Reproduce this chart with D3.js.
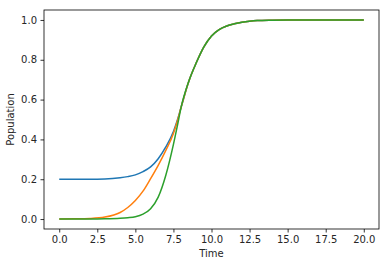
<!DOCTYPE html>
<html>
<head>
<meta charset="utf-8">
<script src="https://cdn.jsdelivr.net/npm/d3@7"></script>
<style>
  body { margin: 0; background: #fff; }
  text { font-family: "DejaVu Sans", sans-serif; fill: #262626; }
  .axis text { font-size: 10px; }
  .axis path, .axis line { stroke: #000; stroke-width: 0.8; }
</style>
</head>
<body>
<div id="chartArea"></div>
<script>
///////////////////////////// DATA /////////////////////////////////////

// shared upper part, all three curves meet there
var timeTop = [8.0, 8.5, 9.0, 9.5, 10.0, 10.5, 11.0, 11.5, 12.0, 12.5, 13.0, 14.0, 15.0, 16.0, 17.0, 18.0, 19.0, 20.0];
var popTop  = [0.56, 0.69, 0.785, 0.865, 0.92, 0.952, 0.97, 0.981, 0.989, 0.994, 0.997, 0.999, 1.0, 1.0, 1.0, 1.0, 1.0, 1.0];

var timeLow = [0, 1, 2, 3, 4, 4.5, 5, 5.5, 6, 6.5, 7, 7.5, 7.75];
var blueLow   = [0.2, 0.2, 0.2, 0.201, 0.207, 0.213, 0.222, 0.238, 0.262, 0.303, 0.362, 0.44, 0.495];
var orangeLow = [0.0, 0.001, 0.003, 0.01, 0.033, 0.058, 0.093, 0.14, 0.203, 0.27, 0.345, 0.43, 0.49];
var greenLow  = [0.0, 0.0, 0.0, 0.001, 0.004, 0.007, 0.012, 0.025, 0.052, 0.11, 0.22, 0.375, 0.465];

var xTicks = [0, 2.5, 5, 7.5, 10, 12.5, 15, 17.5, 20];
var yTicks = [0, 0.2, 0.4, 0.6, 0.8, 1.0];
var colors = ["#1f77b4", "#ff7f0e", "#2ca02c"];

///////////////////////////// CHART OPTIONS /////////////////////////////////////

var margin = { top: 10, right: 10, bottom: 37, left: 44 },
    width = 389 - margin.left - margin.right,
    height = 266 - margin.top - margin.bottom;

var x = d3.scaleLinear().domain([-1, 21]).range([0, width]),
    y = d3.scaleLinear().domain([-0.05, 1.05]).range([height, 0]);

var svg = d3.select("#chartArea").append("svg")
    .attr("width", 389)
    .attr("height", 266);

var focus = svg.append("g")
    .attr("transform", "translate(" + margin.left + "," + margin.top + ")");

function makeSeries(low) {
    var pts = [];
    for (var i = 0; i < timeLow.length; i++) pts.push({ t: timeLow[i], v: low[i] });
    for (var j = 0; j < timeTop.length; j++) pts.push({ t: timeTop[j], v: popTop[j] });
    return pts;
}

var series = [makeSeries(blueLow), makeSeries(orangeLow), makeSeries(greenLow)];

var line = d3.line()
    .curve(d3.curveMonotoneX)
    .x(function(d) { return x(d.t); })
    .y(function(d) { return y(d.v); });

focus.selectAll(".curve")
    .data(series)
    .enter().append("path")
    .attr("class", "curve")
    .attr("d", line)
    .attr("fill", "none")
    .attr("stroke-width", 1.5)
    .attr("stroke", function(d, i) { return colors[i]; });

// frame
focus.append("rect")
    .attr("width", width)
    .attr("height", height)
    .attr("fill", "none")
    .attr("stroke", "#000")
    .attr("stroke-width", 0.8);

focus.append("g")
    .attr("class", "axis")
    .attr("transform", "translate(0," + height + ")")
    .call(d3.axisBottom(x).tickValues(xTicks).tickFormat(d3.format(".1f")).tickSizeInner(3.5).tickSizeOuter(0).tickPadding(3.5))
    .select(".domain").remove();

focus.append("g")
    .attr("class", "axis")
    .call(d3.axisLeft(y).tickValues(yTicks).tickFormat(d3.format(".1f")).tickSizeInner(3.5).tickSizeOuter(0).tickPadding(3.5))
    .select(".domain").remove();

svg.selectAll(".axis text").attr("fill", "#262626").style("font-size", "10px");

svg.append("text")
    .attr("x", margin.left + width / 2)
    .attr("y", 257)
    .style("text-anchor", "middle")
    .style("font-size", "10px")
    .text("Time");

svg.append("text")
    .attr("transform", "translate(14," + (margin.top + height / 2) + ") rotate(-90)")
    .style("text-anchor", "middle")
    .style("font-size", "10px")
    .text("Population");
</script>
</body>
</html>
